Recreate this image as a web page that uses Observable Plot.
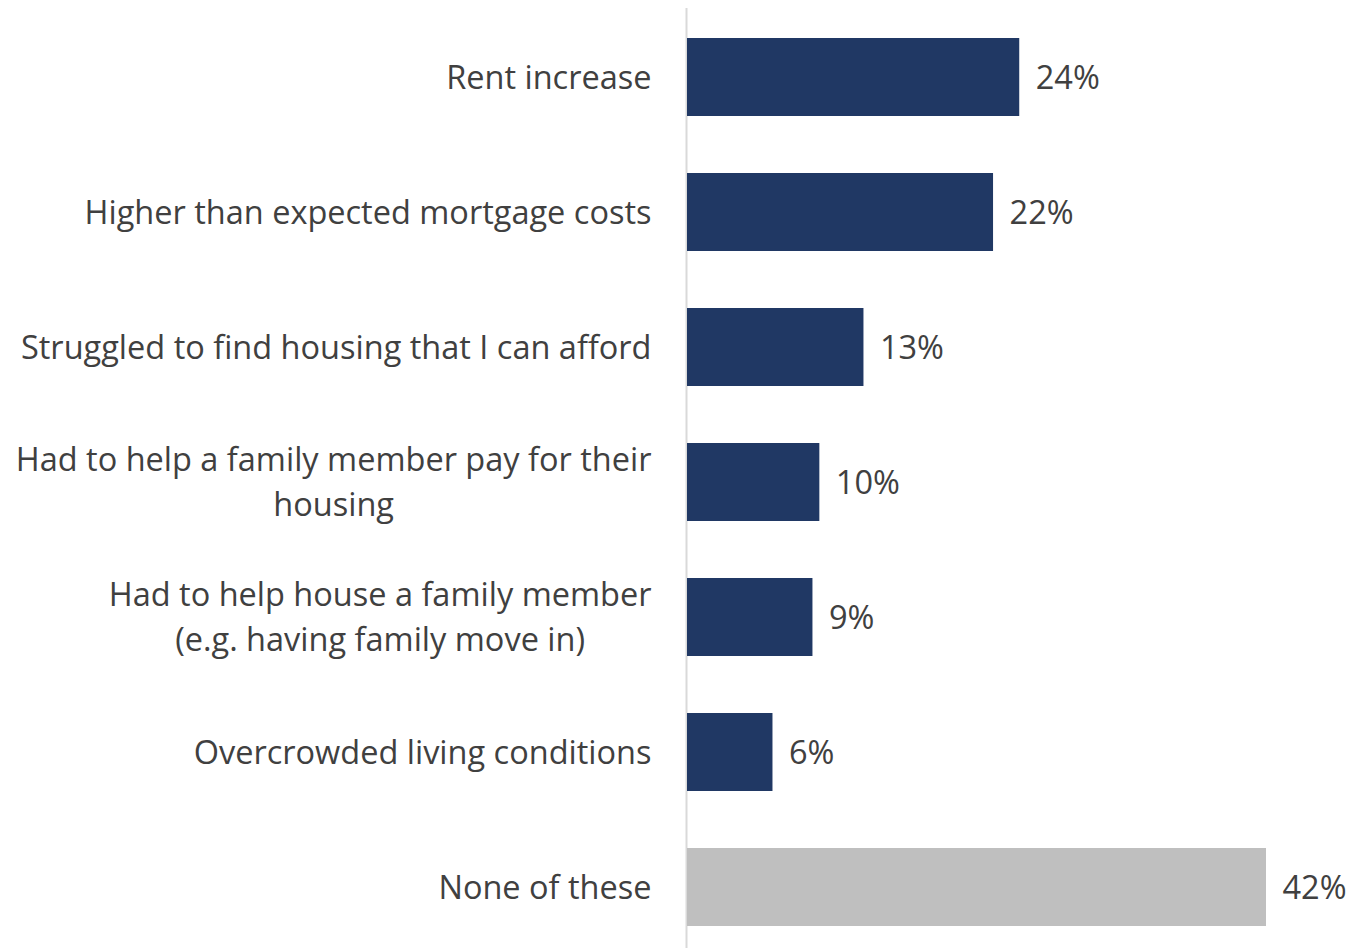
<!DOCTYPE html>
<html><head><meta charset="utf-8">
<script src="https://cdn.jsdelivr.net/npm/d3@7"></script>
<script src="https://cdn.jsdelivr.net/npm/@observablehq/plot@0.6"></script>
<style>body{margin:0;background:#fff;overflow:hidden;}</style>
</head><body><div id="chart"></div>
<script>
const categories = [
  "Rent increase",
  "Higher than expected mortgage costs",
  "Struggled to find housing that I can afford",
  "Had to help a family member pay for their\nhousing",
  "Had to help house a family member\n(e.g. having family move in)",
  "Overcrowded living conditions",
  "None of these"
];
// bar lengths (unrounded estimates)
const values = [24.1, 22.2, 12.8, 9.6, 9.1, 6.2, 42];
const groups = ["issue", "issue", "issue", "issue", "issue", "issue", "none"];
const valueLabels = ["24%", "22%", "13%", "10%", "9%", "6%", "42%"];
const data = categories.map((c, i) => ({category: c, value: values[i], group: groups[i], label: valueLabels[i]}));

const plot = Plot.plot({
  width: 1349, height: 948,
  marginLeft: 687, marginRight: 83, marginTop: 8, marginBottom: 0,
  style: {fontFamily: "Open Sans", background: "#fff"},
  x: {domain: [0, 42], axis: null},
  y: {domain: categories, range: [15, 949], paddingInner: 0.42, paddingOuter: 0.15, axis: null},
  color: {domain: ["issue", "none"], range: ["#203864", "#bfbfbf"]},
  marks: [
    Plot.ruleX([0], {stroke: "#d9d9d9", strokeWidth: 2, dx: -1}),
    Plot.barX(data, {x: "value", y: "category", fill: "group"}),
    Plot.text(data, {x: "value", y: "category", text: "label", textAnchor: "start", dx: 16, dy: 1, fontSize: 32.5, fill: "#404040"}),
    Plot.text(data, {x: 0, y: "category", text: "category", textAnchor: "end", dx: -36, dy: -3, fontSize: 32.5, fill: "#404040", lineHeight: 1.385, className: "ylab"})
  ]
});
document.getElementById("chart").append(plot);
function centerLines() {
  plot.querySelectorAll("g.ylab text").forEach(t => {
    const w = t.getBBox().width;
    t.setAttribute("text-anchor", "middle");
    t.querySelectorAll("tspan").forEach(s => s.setAttribute("x", -w / 2));
    if (!t.querySelector("tspan")) t.setAttribute("x", -w / 2);
  });
}
centerLines();
</script>
</body></html>
